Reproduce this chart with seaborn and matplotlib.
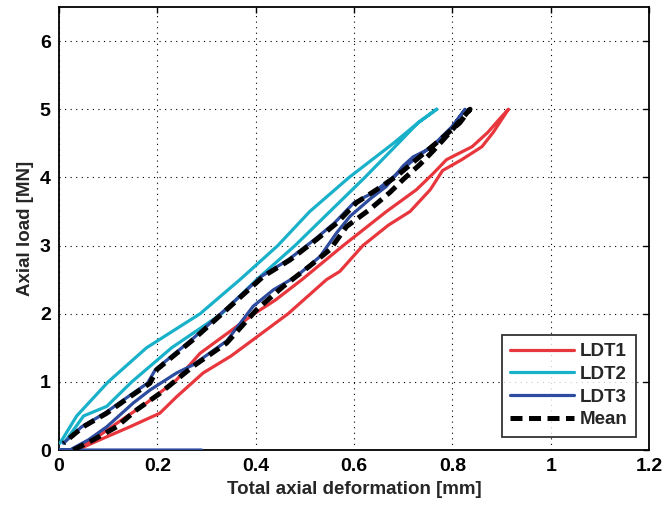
import matplotlib
matplotlib.use("Agg")
import matplotlib.pyplot as plt
import seaborn as sns
import pandas as pd
import numpy as np

# ---- data ----
ldt1_x = [0.036, 0.083, 0.144, 0.205, 0.239, 0.293, 0.350, 0.395, 0.466, 0.544, 0.571, 0.618, 0.670, 0.714, 0.755, 0.780, 0.819, 0.860, 0.883, 0.914,
          0.895, 0.872, 0.840, 0.788, 0.760, 0.727, 0.666, 0.578, 0.494, 0.440, 0.395, 0.340, 0.287, 0.239, 0.178, 0.117, 0.070, 0.030]
ldt1_y = [0.00, 0.15, 0.34, 0.54, 0.78, 1.13, 1.38, 1.62, 2.00, 2.50, 2.62, 3.00, 3.30, 3.50, 3.82, 4.10, 4.26, 4.45, 4.66, 5.00,
          4.85, 4.66, 4.45, 4.26, 4.05, 3.82, 3.50, 3.00, 2.50, 2.20, 1.99, 1.70, 1.42, 1.03, 0.69, 0.39, 0.15, 0.00]

ldt2_x = [0.010, 0.050, 0.097, 0.148, 0.229, 0.331, 0.402, 0.480, 0.551, 0.622, 0.690, 0.730, 0.768,
          0.730, 0.680, 0.590, 0.510, 0.445, 0.368, 0.287, 0.178, 0.100, 0.036, 0.002]
ldt2_y = [0.10, 0.50, 0.64, 1.00, 1.50, 2.00, 2.50, 3.00, 3.50, 4.00, 4.50, 4.80, 5.00,
          4.80, 4.50, 4.00, 3.50, 3.00, 2.50, 2.00, 1.50, 1.00, 0.50, 0.10]

ldt3_x = [0.290, 0.000, 0.022, 0.060, 0.097, 0.151, 0.185, 0.239, 0.273, 0.341, 0.395, 0.436, 0.483, 0.531, 0.565, 0.592, 0.632, 0.666, 0.700, 0.720, 0.761, 0.795, 0.826,
          0.800, 0.765, 0.715, 0.682, 0.640, 0.600, 0.560, 0.520, 0.466, 0.412, 0.338, 0.270, 0.196, 0.180, 0.140, 0.093, 0.046, 0.009]
ldt3_y = [0.00, 0.00, 0.00, 0.15, 0.34, 0.69, 0.88, 1.13, 1.25, 1.60, 2.11, 2.35, 2.55, 2.84, 3.19, 3.43, 3.68, 3.87, 4.17, 4.30, 4.45, 4.70, 5.00,
          4.75, 4.50, 4.22, 4.02, 3.78, 3.63, 3.33, 3.09, 2.79, 2.55, 2.06, 1.62, 1.18, 0.98, 0.78, 0.54, 0.34, 0.10]

mean_x = [0.029, 0.070, 0.117, 0.158, 0.205, 0.239, 0.273, 0.341, 0.402, 0.456, 0.510, 0.551, 0.585, 0.632, 0.673, 0.700, 0.734, 0.761, 0.795, 0.836,
          0.815, 0.768, 0.720, 0.687, 0.646, 0.605, 0.565, 0.524, 0.470, 0.416, 0.341, 0.273, 0.199, 0.185, 0.144, 0.097, 0.049, 0.009]
mean_y = [0.00, 0.15, 0.34, 0.59, 0.83, 1.03, 1.23, 1.57, 2.06, 2.40, 2.70, 2.94, 3.28, 3.53, 3.78, 3.97, 4.19, 4.39, 4.66, 5.00,
          4.80, 4.51, 4.22, 4.02, 3.82, 3.63, 3.33, 3.09, 2.79, 2.55, 2.06, 1.62, 1.18, 0.98, 0.78, 0.54, 0.34, 0.10]

series_names = ["LDT1", "LDT2", "LDT3", "Mean"]
x_ticks = [0, 0.2, 0.4, 0.6, 0.8, 1, 1.2]
x_ticklabels = ["0", "0.2", "0.4", "0.6", "0.8", "1", "1.2"]
y_ticks = [0, 1, 2, 3, 4, 5, 6]

# ---- style ----
sns.set_style("white")
plt.rcParams["font.family"] = ["Liberation Sans", "DejaVu Sans"]
plt.rcParams["font.weight"] = "bold"

colors = {"LDT1": "#E8363D", "LDT2": "#19B1C9", "LDT3": "#2D4C9F", "Mean": "#000000"}

frames = []
for name, xs, ys in zip(series_names, [ldt1_x, ldt2_x, ldt3_x, mean_x], [ldt1_y, ldt2_y, ldt3_y, mean_y]):
    frames.append(pd.DataFrame({"x": xs, "y": ys, "series": name, "order": range(len(xs))}))
df = pd.concat(frames, ignore_index=True)

fig = plt.figure(figsize=(6.63, 5.07), dpi=100)
ax = fig.add_axes([0.089, 0.1124, 0.890, 0.8738])

for name in series_names:
    sub = df[df.series == name]
    if name == "Mean":
        sns.lineplot(data=sub, x="x", y="y", sort=False, estimator=None, ax=ax,
                     color=colors[name], lw=3.6, linestyle=(0, (2.4, 1.3)), label=name, zorder=5)
    else:
        sns.lineplot(data=sub, x="x", y="y", sort=False, estimator=None, ax=ax,
                     color=colors[name], lw=2.3, label=name, zorder=3)

ax.set_xlim(0, 1.2)
ax.set_ylim(0, 6.5)
ax.set_xticks(x_ticks)
ax.set_xticklabels(x_ticklabels)
ax.set_yticks(y_ticks)
ax.grid(True, color="black", linestyle=(0, (1, 4)), linewidth=0.8)
ax.tick_params(direction="in", length=4, width=1, labelsize=14, colors="black", top=True, right=True, pad=6)
for lab in ax.get_xticklabels() + ax.get_yticklabels():
    lab.set_fontweight("bold")
for s in ax.spines.values():
    s.set_color("black")
    s.set_linewidth(1.3)
    s.set_visible(True)

ax.set_xlabel("Total axial deformation [mm]", fontsize=13.5, fontweight="bold", labelpad=4)
ax.set_ylabel("Axial load [MN]", fontsize=13.5, fontweight="bold", labelpad=4)

leg = ax.legend(loc="lower right", fontsize=13.5, frameon=True, fancybox=False,
                edgecolor="black", handlelength=3.4, borderaxespad=0.7,
                labelspacing=0.3, handletextpad=0.3, borderpad=0.45)
leg.get_frame().set_linewidth(1.3)
for t in leg.get_texts():
    t.set_fontweight("bold")

fig.savefig("out.png", dpi=100)
